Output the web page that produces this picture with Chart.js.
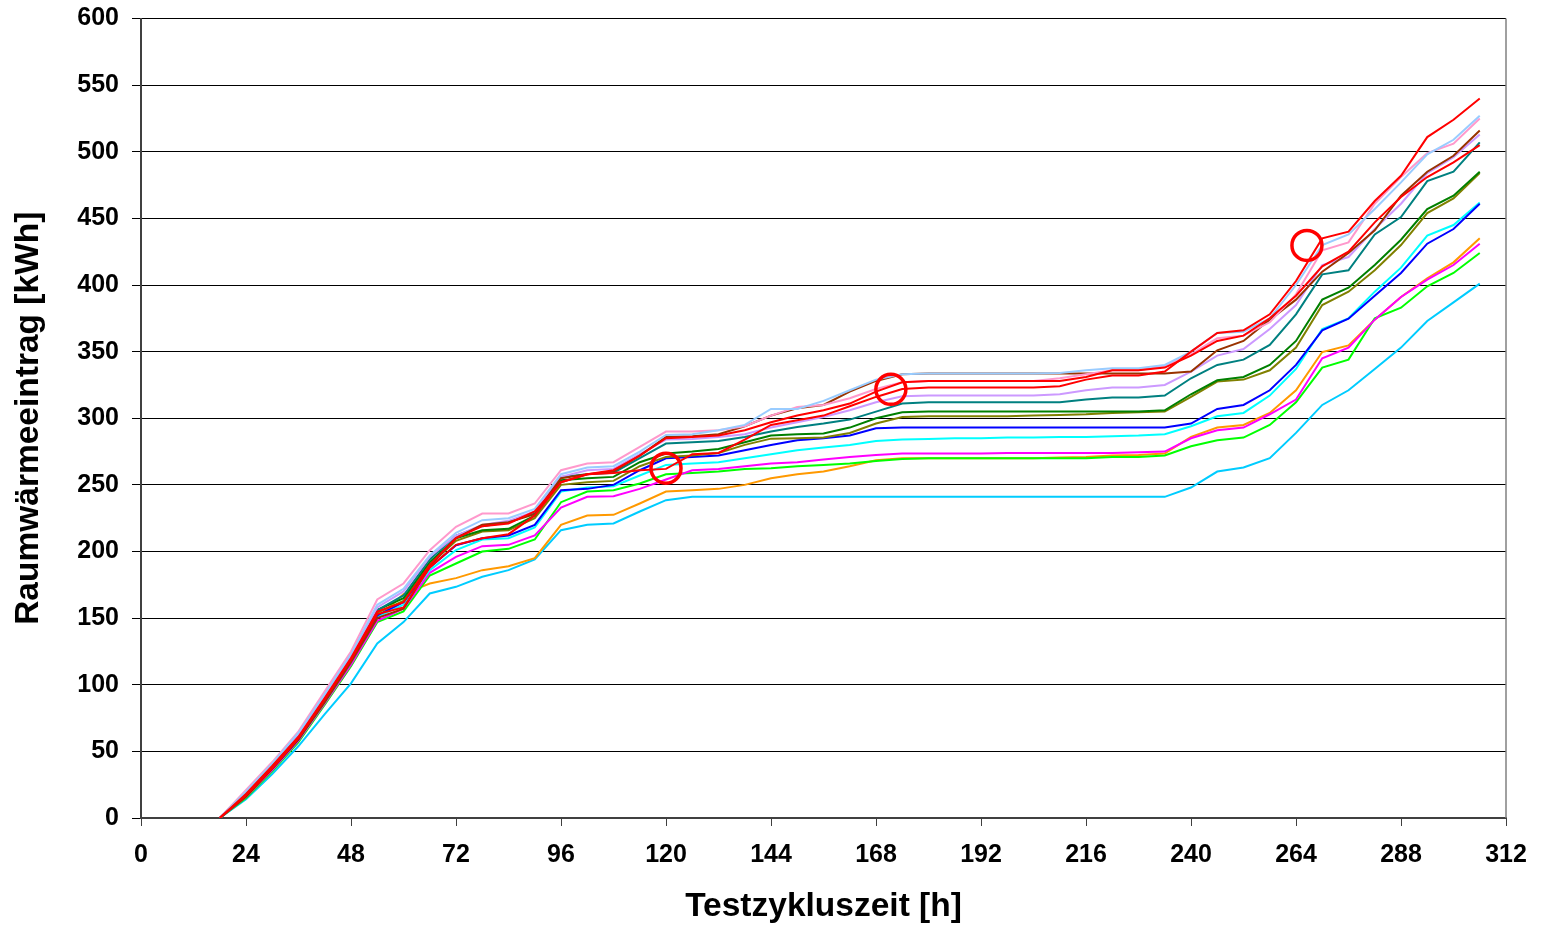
<!DOCTYPE html>
<html><head><meta charset="utf-8">
<script src="https://cdn.jsdelivr.net/npm/chart.js@4.4.0/dist/chart.umd.min.js"></script>
<style>html,body{margin:0;padding:0;background:#fff;}#wrap{width:1545px;height:927px;}</style>
</head><body><div id="wrap"><canvas id="c" width="1545" height="927"></canvas></div>
<script>
// Testzykluszeit [h]
const hours = [18,24,30,36,42,48,54,60,66,72,78,84,90,96,102,108,114,120,126,132,138,144,150,156,162,168,174,180,186,192,198,204,210,216,222,228,234,240,246,252,258,264,270,276,282,288,294,300,306];

// Raumwärmeeintrag [kWh] per run
const redTop    = [0,17,37,60,89,119,153,158,188,205,210,213,227,252,258,259,261,262,273,274,284,295,298.5,302,309,316,322,323,323,323,323,323,324,329,332,332,335,350,364,366,378,403,435,440,463,482,511,524,540];
const redLow    = [0,18,39,61,90,120,155,162,190,210,219,221,230,252,258,261,272,285,286,287,291,297,302,306,311,320,327,328,328,328,328,328,328,331,336,336,338,347,358,362,375,392,414,425,447,466,481,492,505];
const lightBlue = [0,20,41,64,93,123,160,172,197,214,223.5,225,232,258,263,264,275,287.5,288,291,295,307,307,313,321,329,333,333.5,333.5,333.5,333.5,333.5,334,336,337.5,337.5,340,350,364,365,375,400,430,438,457,477,498,509,527];
const pink      = [0,21,42,65,95,125,164,176,201,218.5,228.5,228.5,236,261,266,267,278.5,290,290,291,294,302,308.5,310,315,322,327,328,328,328,328,328,330,333,336,336,339,348,360,362,372,393,426,432,461,481,499,506,525];
const brown     = [0,16,37,59,87,117,150,157,189,210,220,222,228,255,258,260,272,286,286.5,288,294,302,307.5,310,320,328,333,333.5,333.5,333.5,333.5,333.5,333.5,333.5,333.5,333.5,333.5,335,351,358,374,389,410,424,441,467,485,497,516];
const lavender  = [0,20,41,63,92,122,158,170,196,212,220,223,230,256,261,262,273,284,284.5,286,288,293,297,301,306,312,316.5,317,317,317,317,317,318,321,323,323,325,335,347,352,367,385,415,421,442,461,484,496,513];
const teal      = [0,19,40,62,91,121,156,167,194,212,219,222,229,256,258,259,270,281,282,283,286,290,293.5,296,299,305,311,312,312,312,312,312,312,314,315.5,315.5,317,330,340,344,355,378,408,411,438,451,478,485,507];
const darkGreen = [0,18,39,61,90,120,156,165,192,210,216,217,227,253.5,255,256,267,273.5,275,277,282,287,288,288.5,293,300,304.5,305,305,305,305,305,305,305,305,305,306,318,328.5,331,340,358,389,398,415,434,457,467,485];
const olive     = [0,18,38,60,89,119,154,163,190,208,215,216,225,250,252,253,264,271,272,274,280,284.7,285,285.5,289,296,301,301.5,301.5,301.5,301.5,302,302.5,303,304,304.5,305,316,327.5,329,336,353,385,395,411,430,454,465,484];
const blue      = [0,17,37,59,88,118,152,162,188,204.7,210,212,220,246,247,250,261,270,271,272,276,280,283.5,285,287,292.5,293,293,293,293,293,293,293,293,293,293,293,296,307,310,321,340,366,374.7,392,409,431,442,461];
const cyan      = [0,17,37,59,87,117,151,160,186,201,209,210,218,245,248,249,257,265,266,267,270,273,276,278,280,283,284,284.5,285,285,285.5,285.5,286,286,286.5,287,288,294,301.5,304,317,337,367,375,395,413,437,445,462];
const magenta   = [0,16,36,58,86,115,148,157,184,196,204,205,212,233,241,241.5,247,254,261,262,264,266,267,269,271,272.5,273.5,273.5,273.5,273.5,274,274,274,274,274,274.5,275,285,291,293,303,314,345,353,374,391,404,415,431];
const green     = [0,15,35,57,85,114,147,155,182,191,200,202,209,237,245,246,251,258,259,260,262,262.5,264,265,266,268,269.5,270,270,270,270,270,270,270,271,271,272,279,283.5,285.5,295,312,338,344,375,383,399,409,424];
const orange    = [0,16,36,58,86,115,150,168,176,180,186,189,195,220,227,227.5,236,245,246,247,250,255,258,260,264,268.5,270,270,270,270,270,270,270.5,271,272,272.5,273.5,286,293,295,304,321,349.7,354.7,374,391,405,417,435];
const skyBlue   = [0,14,33,54,78,101,131,147,168.5,173.5,181,186,194,216,220,221,230,238.5,241,241,241,241,241,241,241,241,241,241,241,241,241,241,241,241,241,241,241,248,260,263,270,289,310,321,337,353,373,387,401];

// highlighted points (red circles)
const markHours  = [120, 171.4, 266.5];
const markValues = [262.5, 321.7, 429.7];

const xTicks = [0,24,48,72,96,120,144,168,192,216,240,264,288,312];
const yTicks = [0,50,100,150,200,250,300,350,400,450,500,550,600];

const series = [
  ['redTop', redTop, '#FF0000'],
  ['redLow', redLow, '#FF0000'],
  ['lightBlue', lightBlue, '#99CCFF'],
  ['pink', pink, '#FF99CC'],
  ['brown', brown, '#993300'],
  ['lavender', lavender, '#CC99FF'],
  ['teal', teal, '#008080'],
  ['darkGreen', darkGreen, '#008000'],
  ['olive', olive, '#808000'],
  ['blue', blue, '#0000FF'],
  ['cyan', cyan, '#00FFFF'],
  ['magenta', magenta, '#FF00FF'],
  ['green', green, '#00FF00'],
  ['orange', orange, '#FF9900'],
  ['skyBlue', skyBlue, '#00CCFF']
];

const datasets = [{
  label: 'marks', type: 'scatter',
  data: markHours.map((h, i) => ({x: h, y: markValues[i]})),
  pointRadius: 15, pointHoverRadius: 15, pointBorderWidth: 3.5,
  pointBorderColor: '#FF0000', pointBackgroundColor: 'rgba(0,0,0,0)', showLine: false
}];
series.forEach(([name, vals, col]) => {
  datasets.push({
    label: name, data: hours.map((h, i) => ({x: h, y: vals[i]})),
    borderColor: col, backgroundColor: col, borderWidth: 2,
    pointRadius: 0, tension: 0, fill: false
  });
});

const font = 'Liberation Sans, Arial, Helvetica, sans-serif';

const rightBorder = {
  id: 'rightBorder',
  afterDraw(chart) {
    const {ctx, chartArea: a} = chart;
    ctx.save();
    ctx.strokeStyle = '#808080'; ctx.lineWidth = 1.5;
    ctx.beginPath(); ctx.moveTo(a.right, a.top); ctx.lineTo(a.right, a.bottom); ctx.stroke();
    ctx.restore();
  }
};

new Chart(document.getElementById('c'), {
  type: 'line',
  data: { datasets },
  options: {
    responsive: false, animation: false, devicePixelRatio: 1,
    layout: { padding: { top: 18, right: 39, left: 0, bottom: 0 } },
    plugins: { legend: { display: false }, tooltip: { enabled: false } },
    scales: {
      x: {
        type: 'linear', min: 0, max: 312,
        afterFit(s) { s.height = 109; s.paddingLeft = 0; s.paddingRight = 0; },
        afterBuildTicks(s) { s.ticks = xTicks.map(v => ({value: v})); },
        ticks: { color: '#000', font: { family: font, size: 25, weight: 'bold' }, padding: 14, maxRotation: 0 },
        grid: { drawOnChartArea: false, drawTicks: true, tickLength: 8, color: '#404040', lineWidth: 1 },
        border: { color: '#404040', width: 2 },
        title: { display: true, text: 'Testzykluszeit [h]', color: '#000', font: { family: font, size: 33.5, weight: 'bold' }, padding: { top: 0, bottom: 0 } }
      },
      y: {
        min: 0, max: 600,
        afterFit(s) { s.width = 141; s.paddingTop = 0; s.paddingBottom = 0; },
        afterBuildTicks(s) { s.ticks = yTicks.map(v => ({value: v})); },
        ticks: { color: '#000', font: { family: font, size: 25, weight: 'bold' }, padding: 13 },
        grid: { color: '#000', lineWidth: 1, drawTicks: true, tickLength: 9 },
        border: { color: '#404040', width: 2 },
        title: { display: true, text: 'Raumwärmeeintrag [kWh]', color: '#000', font: { family: font, size: 33.5, weight: 'bold' }, padding: { top: 9, bottom: 4 } }
      }
    }
  },
  plugins: [rightBorder]
});
</script></body></html>
